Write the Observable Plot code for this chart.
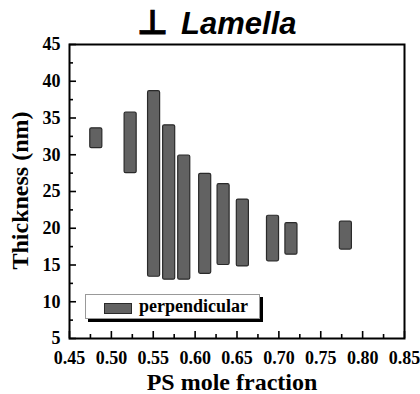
<!DOCTYPE html>
<html>
<head>
<meta charset="utf-8">
<script src="https://cdn.jsdelivr.net/npm/d3@7"></script>
<script src="https://cdn.jsdelivr.net/npm/@observablehq/plot@0.6"></script>
<style>
  body { margin: 0; background: #fff; }
  #wrap { position: relative; width: 420px; height: 394px; overflow: hidden; }
  #title { position: absolute; left: 137px; top: 3px; font-family: "Liberation Sans", Arial, sans-serif; font-weight: bold; font-size: 31px; color: #000; white-space: nowrap; line-height: 38px; }
  #title .perp { font-family: "DejaVu Sans", sans-serif; font-style: normal; font-size: 34px; margin-right: 13px; -webkit-text-stroke: 0.8px #000; }
  #title .lam { font-style: italic; }
  #legend { position: absolute; left: 85px; top: 294px; width: 173px; height: 23px; background: #fff; border: 1px solid #999; box-shadow: 3px 3px 0 #000; }
  #legend .sw { position: absolute; left: 18px; top: 8px; width: 26px; height: 9px; background: #626262; border: 1px solid #2a2a2a; }
  #legend .lb { position: absolute; left: 53px; top: 0px; line-height: 23px; font-family: "Liberation Serif", "Times New Roman", serif; font-weight: bold; font-size: 18px; color: #000; }
</style>
</head>
<body>
<div id="wrap">
  <div id="title"><span class="perp">⊥</span><span class="lam">Lamella</span></div>
</div>
<script>
const psFraction = [0.482, 0.523, 0.551, 0.569, 0.587, 0.612, 0.634, 0.657, 0.693, 0.715, 0.780];
const thicknessLow = [30.9, 27.5, 13.4, 13.0, 13.0, 13.8, 15.0, 14.8, 15.5, 16.4, 17.1];
const thicknessHigh = [33.6, 35.75, 38.65, 34.0, 29.9, 27.4, 26.0, 23.9, 21.7, 20.7, 20.9];
const xTicks = [0.45, 0.50, 0.55, 0.60, 0.65, 0.70, 0.75, 0.80, 0.85];
const xMinorTicks = [0.475, 0.525, 0.575, 0.625, 0.675, 0.725, 0.775, 0.825];
const yTicks = [5, 10, 15, 20, 25, 30, 35, 40, 45];
const yMinorTicks = [7.5, 12.5, 17.5, 22.5, 27.5, 32.5, 37.5, 42.5];
const seriesName = "perpendicular";
const xTitle = "PS mole fraction";
const yTitle = "Thickness (nm)";

const rows = psFraction.map((x, i) => ({x, lo: thicknessLow[i], hi: thicknessHigh[i]}));
const serif = "'Liberation Serif', 'Times New Roman', serif";
const W = 420, H = 394, mT = 44, mL = 69, mR = 16, mB = 56;
const fw = W - mL - mR, fh = H - mT - mB;
const halfW = 0.0072;

const chart = Plot.plot({
  width: W, height: H,
  marginTop: mT, marginLeft: mL, marginRight: mR, marginBottom: mB,
  x: {domain: [0.45, 0.85], label: null},
  y: {domain: [5, 45], label: null},
  style: {background: "white", color: "black"},
  marks: [
    Plot.rect(rows, {x1: d => d.x - halfW, x2: d => d.x + halfW, y1: "lo", y2: "hi", fill: "#626262", stroke: "#2a2a2a", strokeWidth: 1.2, rx: 1.5}),
    Plot.tickX(xTicks, {x: d => d, insetTop: fh - 7, stroke: "black", strokeWidth: 1.6}),
    Plot.tickX(xMinorTicks, {x: d => d, insetTop: fh - 4, stroke: "black", strokeWidth: 1.6}),
    Plot.tickY(yTicks, {y: d => d, insetRight: fw - 7, stroke: "black", strokeWidth: 1.6}),
    Plot.tickY(yMinorTicks, {y: d => d, insetRight: fw - 4, stroke: "black", strokeWidth: 1.6}),
    Plot.axisX(xTicks, {tickSize: 0, tickPadding: 13, tickFormat: d => d.toFixed(2), fontSize: 18, fontWeight: "bold", fontFamily: serif, label: null}),
    Plot.axisY(yTicks, {tickSize: 0, tickPadding: 9, tickFormat: d => String(d), fontSize: 18, fontWeight: "bold", fontFamily: serif, label: null}),
    Plot.text([xTitle], {frameAnchor: "bottom", dx: -5, dy: 51, lineAnchor: "bottom", textAnchor: "middle", text: d => d, fontSize: 24, fontWeight: "bold", fontFamily: serif}),
    Plot.text([yTitle], {frameAnchor: "left", dx: -49, dy: -1, rotate: -90, textAnchor: "middle", lineAnchor: "middle", text: d => d, fontSize: 24, fontWeight: "bold", fontFamily: serif}),
    Plot.frame({stroke: "black", strokeWidth: 2})
  ]
});
const wrap = document.getElementById("wrap");
wrap.insertBefore(chart, wrap.firstChild);
chart.style.position = "absolute";
chart.style.left = "0";
chart.style.top = "0";
const legend = document.createElement("div");
legend.id = "legend";
legend.innerHTML = `<div class="sw"></div><div class="lb"></div>`;
legend.querySelector(".lb").textContent = seriesName;
wrap.appendChild(legend);
</script>
</body>
</html>
